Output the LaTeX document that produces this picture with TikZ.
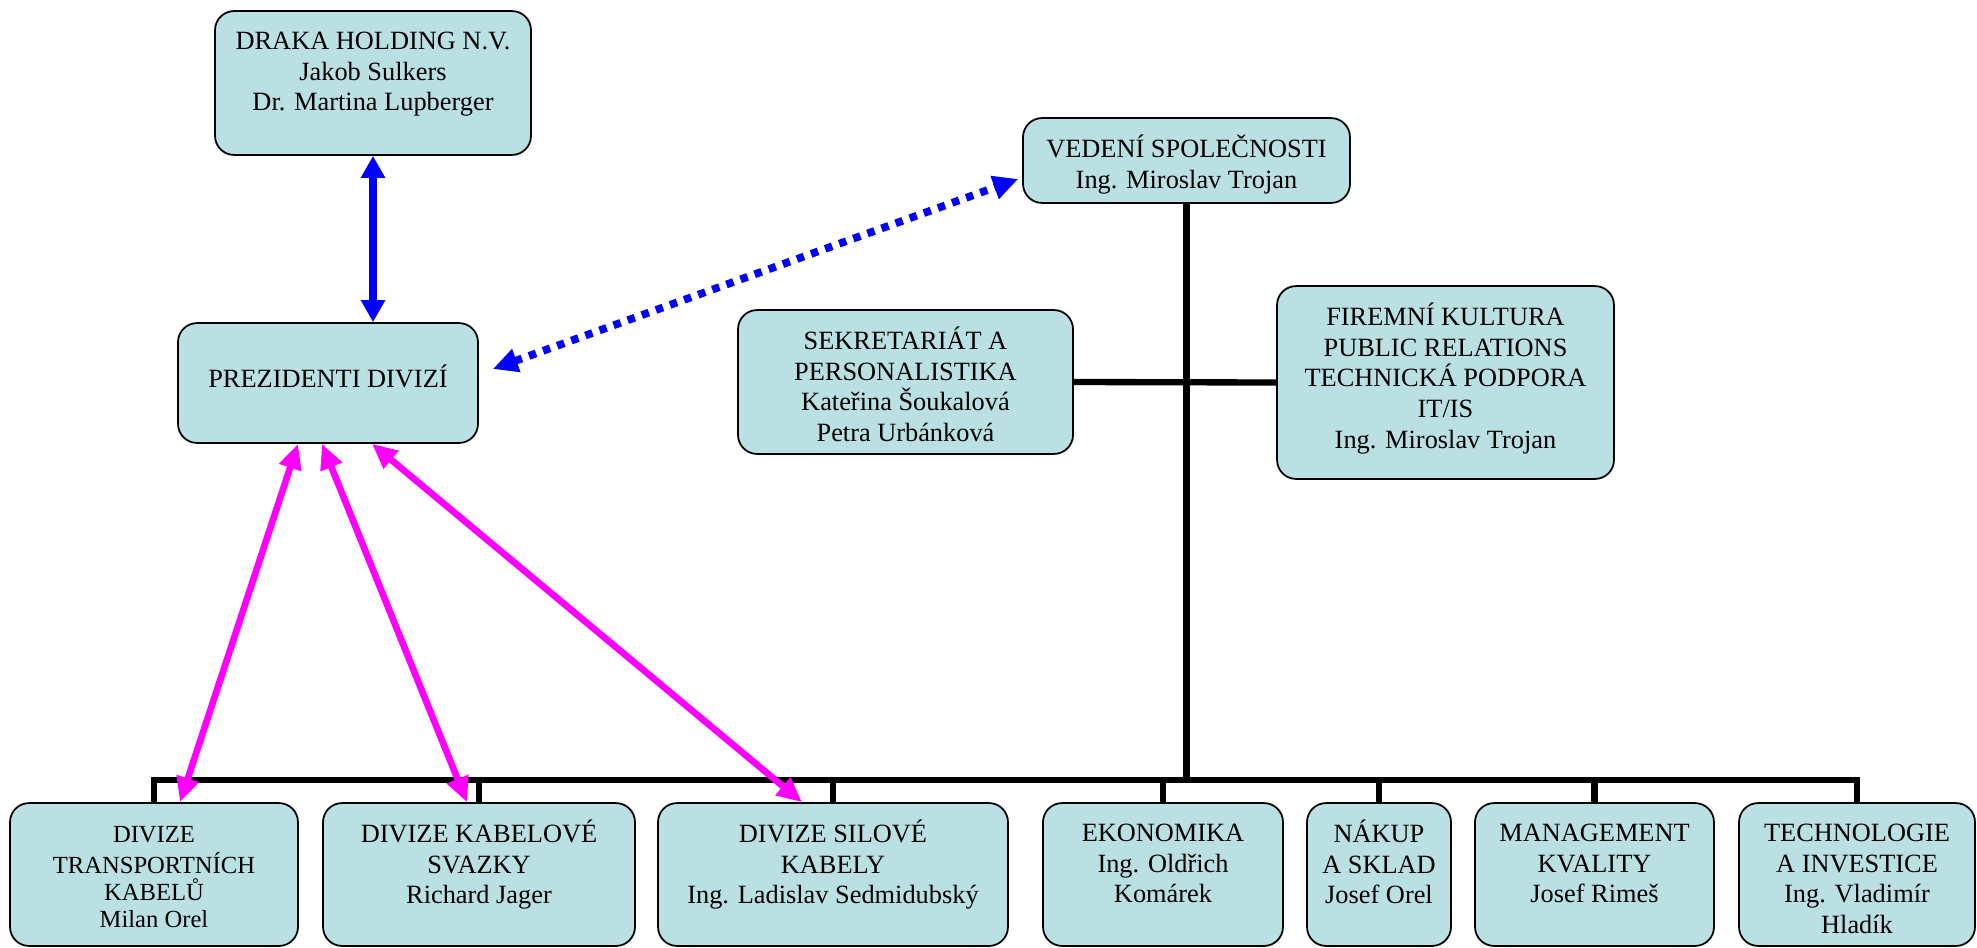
\documentclass[tikz,border=0pt]{standalone}
\usepackage{fontspec}
\setmainfont{Liberation Serif}
\usetikzlibrary{arrows.meta}
\definecolor{unitfill}{RGB}{186,224,228}
\definecolor{divmagenta}{RGB}{255,0,255}
\newcommand{\unittext}[4][0pt]{\parbox[c][#3][t]{#2}{\centering\vspace*{#1}\strut #4}}
\tikzset{
  unit/.style={draw, line width=1pt, rounded corners=0.38cm, fill=unitfill,
    inner xsep=0pt, inner ysep=9.5pt, font=\fontsize{15}{17.5}\selectfont},
  tree/.style={line width=3.6pt},
  holdlink/.style={blue, line width=4pt,
    {Triangle[length=0.44cm,width=0.46cm]}-{Triangle[length=0.44cm,width=0.46cm]}},
  vedlink/.style={blue, line width=4.4pt, dash pattern=on 0.15cm off 0.15cm,
    {Triangle[length=0.5cm,width=0.46cm]}-{Triangle[length=0.5cm,width=0.46cm]}},
  divlink/.style={divmagenta, line width=3.8pt,
    {Triangle[length=0.5cm,width=0.44cm]}-{Triangle[length=0.5cm,width=0.44cm]}}
}
\begin{document}
\begin{tikzpicture}[x=0.02cm,y=-0.02cm]
\useasboundingbox (0,0) rectangle (1977,947);
% top of the chart
\node[unit] (draka) at (373,83) {\unittext{6.32cm}{2.21cm}{DRAKA HOLDING N.V.\\ Jakob Sulkers\\ Dr. Martina Lupberger}};
\node[unit] (prez) at (328,383) {\unittext[0.5cm]{6.0cm}{1.73cm}{PREZIDENTI DIVIZÍ}};
\node[unit] (vedeni) at (1186.5,160.5) {\unittext{6.54cm}{1.03cm}{VEDENÍ SPOLEČNOSTI\\ Ing. Miroslav Trojan}};
\node[unit] (sekret) at (905.5,382) {\unittext{6.7cm}{2.21cm}{SEKRETARIÁT A\\ PERSONALISTIKA\\ Kateřina Šoukalová\\ Petra Urbánková}};
\node[unit] (firemni) at (1445.5,382.5) {\unittext{6.74cm}{3.19cm}{FIREMNÍ KULTURA\\ PUBLIC RELATIONS\\ TECHNICKÁ PODPORA\\ IT/IS\\ Ing. Miroslav Trojan}};
% divisions and departments
\node[unit,font=\fontsize{14}{15.5}\selectfont] (divtrans) at (154,874.5) {\unittext[2pt]{5.76cm}{2.19cm}{DIVIZE\\ TRANSPORTNÍCH\\ KABELŮ\\ Milan Orel}};
\node[unit] (divsvaz) at (479,874.5) {\unittext{6.24cm}{2.19cm}{DIVIZE KABELOVÉ\\ SVAZKY\\ Richard Jager}};
\node[unit] (divsil) at (833,874.5) {\unittext{7.0cm}{2.19cm}{DIVIZE SILOVÉ\\ KABELY\\ Ing. Ladislav Sedmidubský}};
\node[unit] (ekon) at (1163,874.5) {\unittext{4.8cm}{2.19cm}{EKONOMIKA\\ Ing. Oldřich\\ Komárek}};
\node[unit] (nakup) at (1379,874.5) {\unittext{2.88cm}{2.19cm}{NÁKUP\\ A SKLAD\\ Josef Orel}};
\node[unit] (mgmt) at (1594.5,874.5) {\unittext{4.78cm}{2.19cm}{MANAGEMENT\\ KVALITY\\ Josef Rimeš}};
\node[unit] (tech) at (1857,874.5) {\unittext{4.72cm}{2.19cm}{TECHNOLOGIE\\ A INVESTICE\\ Ing. Vladimír\\ Hladík}};
% tree lines
\coordinate (bus) at (1187,780);
\draw[tree] (vedeni.south) -- (vedeni.south |- bus);
\draw[tree] (sekret.east) -- (firemni.west);
\foreach \dept in {divtrans,divsvaz,divsil,ekon,nakup,mgmt,tech}
  \draw[tree] (bus) -| (\dept.north);
% arrows
\draw[holdlink] (draka.south) -- (draka.south |- prez.north);
\draw[vedlink] ([shift={(0.28cm,0.28cm)}]prez.east) -- ([shift={(-0.08cm,-0.37cm)}]vedeni.west);
\draw[divlink] ([xshift=-0.6cm]prez.south) -- ([xshift=0.52cm]divtrans.north);
\draw[divlink] ([xshift=-0.12cm]prez.south) -- ([xshift=-0.24cm]divsvaz.north);
\draw[divlink] ([xshift=0.88cm]prez.south) -- ([xshift=-0.62cm]divsil.north);
\end{tikzpicture}
\end{document}
